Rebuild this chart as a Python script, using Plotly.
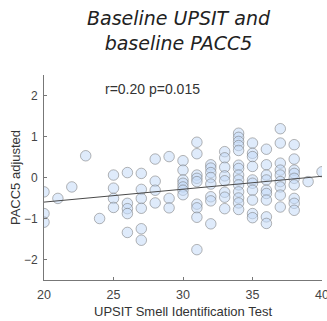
import plotly.graph_objects as go

# UPSIT score (x) and PACC5 adjusted (y)
upsit = (
    [20]*3 + [21] + [22] + [23] + [24] + [25]*4 + [26]*5 + [27]*6 + [28]*4 + [29]*3 +
    [30]*7 + [31]*9 + [32]*8 + [33]*8 + [34]*14 + [35]*10 + [36]*9 + [37]*9 + [38]*9 +
    [39] + [40]
)
pacc5 = [
    -0.35, -0.88, -1.09,
    -0.51,
    -0.23,
    0.53,
    -1.00,
    0.06, -0.26, -0.51, -0.73,
    0.12, -0.63, -0.76, -0.88, -1.34,
    0.10, -0.29, -0.51, -0.75, -1.25, -1.53,
    0.45, -0.09, -0.31, -0.62,
    0.51, -0.51, -0.74,
    0.41, 0.18, -0.06, -0.14, -0.23, -0.31, -0.42,
    0.86, 0.58, 0.06, -0.02, -0.10, -0.65, -0.74, -0.97, -1.76,
    0.31, 0.23, 0.12, 0.00, -0.16, -0.47, -0.57, -1.13,
    0.63, 0.48, 0.25, 0.04, -0.08, -0.36, -0.48, -0.76,
    1.08, 0.98, 0.88, 0.78, 0.66, 0.30, 0.22, 0.06, -0.06, -0.18, -0.35, -0.50, -0.62, -0.78,
    0.84, 0.59, 0.51, 0.27, -0.06, -0.14, -0.31, -0.55, -0.88, -0.98,
    0.69, 0.31, 0.06, -0.06, -0.31, -0.39, -0.55, -0.96, -1.12,
    1.19, 0.84, 0.35, 0.18, 0.06, -0.10, -0.23, -0.43, -0.72,
    0.80, 0.45, 0.18, 0.10, -0.02, -0.18, -0.51, -0.63, -0.80,
    -0.10,
    0.14,
]

# fitted regression line endpoints
fit_x = [20, 40]
fit_y = [-0.60, 0.03]

x_ticks = [20, 25, 30, 35, 40]
y_ticks = [-2, -1, 0, 1, 2]

title_text = "Baseline UPSIT and<br>baseline PACC5"
stat_text = "r=0.20 p=0.015"

fig = go.Figure()
fig.add_trace(go.Scatter(
    x=upsit, y=pacc5, mode="markers",
    marker=dict(size=10.5, color="rgba(196,218,248,0.55)",
                line=dict(color="rgba(110,110,110,0.5)", width=1)),
    showlegend=False, hoverinfo="skip",
))
fig.add_trace(go.Scatter(
    x=fit_x, y=fit_y, mode="lines",
    line=dict(color="#4a4a4a", width=1),
    showlegend=False, hoverinfo="skip",
))

# title as annotation for precise placement
fig.add_annotation(
    x=0.484, y=1.215, xref="paper", yref="paper", text=title_text,
    showarrow=False, xanchor="center", yanchor="middle", align="center",
    font=dict(family="DejaVu Sans, Verdana, sans-serif", size=19,
              color="#222222", style="italic"),
)
fig.add_annotation(
    x=0.39, y=0.932, xref="paper", yref="paper", text=stat_text,
    showarrow=False, xanchor="center", yanchor="middle",
    font=dict(family="Liberation Sans, Arial, sans-serif", size=14, color="#333333"),
)

fig.update_layout(
    width=327, height=321,
    margin=dict(l=44, r=5, t=75, b=41),
    paper_bgcolor="white", plot_bgcolor="white",
    xaxis=dict(
        range=[20, 40], tickvals=x_ticks, showgrid=False, zeroline=False,
        showline=True, linecolor="#777777", linewidth=1,
        ticks="inside", ticklen=3, tickcolor="#777777",
        ticklabeloverflow="allow", ticklabelstandoff=3, automargin=False,
        tickfont=dict(family="Liberation Sans, Arial, sans-serif", size=12.5, color="#444444"),
        title=dict(text="UPSIT Smell Identification Test", standoff=5,
                   font=dict(family="Liberation Sans, Arial, sans-serif", size=13, color="#333333")),
    ),
    yaxis=dict(
        range=[-2.5, 2.5], tickvals=y_ticks, showgrid=False, zeroline=False,
        showline=True, linecolor="#777777", linewidth=1,
        ticks="inside", ticklen=3, tickcolor="#777777",
        ticklabelstandoff=3, automargin=False,
        tickfont=dict(family="Liberation Sans, Arial, sans-serif", size=12, color="#444444"),
        title=dict(text="PACC5 adjusted", standoff=0,
                   font=dict(family="Liberation Sans, Arial, sans-serif", size=13, color="#333333")),
    ),
)

fig.write_html("out.html")
